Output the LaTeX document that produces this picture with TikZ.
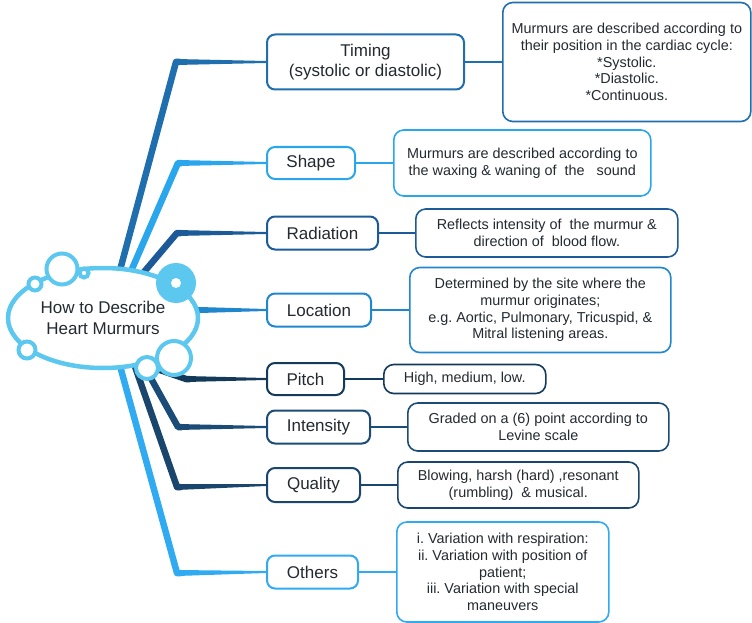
\documentclass[tikz,border=0pt]{standalone}
\usepackage{fontspec}
\setmainfont{Liberation Sans}
\usetikzlibrary{shapes.geometric}
\frenchspacing

\definecolor{ink}{HTML}{232A31}
\definecolor{cloudc}{HTML}{5CC8EF}
\definecolor{timingc}{HTML}{1F6EAD}
\definecolor{shapec}{HTML}{2AA6EC}
\definecolor{radiationc}{HTML}{1C5B97}
\definecolor{locationc}{HTML}{2187CD}
\definecolor{pitchc}{HTML}{133A5B}
\definecolor{intensityc}{HTML}{1B4C77}
\definecolor{qualityc}{HTML}{1A456D}
\definecolor{othersc}{HTML}{30AAF0}

\tikzset{
  hub/.style={ellipse,draw=cloudc,line width=4.5pt,fill=white,text=ink,
    minimum width=190pt,minimum height=100pt,inner sep=0pt,align=center,
    font=\fontsize{17}{21.5}\selectfont},
  bubble/.style={draw=cloudc,line width=4pt,fill=white},
  topic/.style={draw=#1,rounded corners=8pt,line width=2pt,fill=white,text=ink,
    anchor=west,align=center,inner sep=2pt,font=\fontsize{17}{20}\selectfont},
  detail/.style={draw=#1,rounded corners=10pt,line width=1.6pt,fill=white,text=ink,
    anchor=west,align=center,inner sep=2pt,font=\fontsize{14.4}{16.8}\selectfont},
  twig/.style={line width=6.5pt,line join=round},
  link/.style={line width=2pt},
}

\begin{document}
\begin{tikzpicture}[x=1pt,y=-1pt]
\useasboundingbox (0,0) rectangle (752,623);

% topic boxes
\node[topic=timingc,minimum width=197pt,minimum height=55pt] (timing) at (266,62) {Timing\\(systolic or diastolic)};
\node[topic=shapec,minimum width=88pt,minimum height=32pt] (shape) at (266,163) {Shape};
\node[topic=radiationc,minimum width=111pt,minimum height=33pt] (radiation) at (266,233) {Radiation};
\node[topic=locationc,minimum width=104pt,minimum height=33pt] (location) at (266,310) {Location};
\node[topic=pitchc,minimum width=77pt,minimum height=32pt] (pitch) at (266,379) {Pitch};
\node[topic=intensityc,minimum width=103pt,minimum height=33pt] (intensity) at (266,427) {Intensity};
\node[topic=qualityc,minimum width=93pt,minimum height=34pt] (quality) at (266,485) {Quality};
\node[topic=othersc,minimum width=91pt,minimum height=33pt] (others) at (266,572) {Others};

% detail boxes
\node[detail=timingc,minimum width=248pt,minimum height=119pt] (timingd) at (502,62) {Murmurs are described according to\\their position in the cardiac cycle:\\*Systolic.\\*Diastolic.\\*Continuous.};
\node[detail=shapec,minimum width=257pt,minimum height=66pt] (shaped) at (393,163) {Murmurs are described according to\\the waxing \& waning of\ \ the\ \ \ sound};
\node[detail=radiationc,minimum width=262pt,minimum height=48pt] (radiationd) at (415,233) {Reflects intensity of\ \ the murmur \&\\direction of\ \ blood flow.};
\node[detail=locationc,minimum width=261pt,minimum height=85pt] (locationd) at (409,310) {Determined by the site where the\\murmur originates;\\e.g. Aortic, Pulmonary, Tricuspid, \&\\Mitral listening areas.};
\node[detail=pitchc,minimum width=162pt,minimum height=29pt] (pitchd) at (383,379) {High, medium, low.};
\node[detail=intensityc,minimum width=261pt,minimum height=48pt] (intensityd) at (407,427) {Graded on a (6) point according to\\Levine scale};
\node[detail=qualityc,minimum width=241pt,minimum height=46pt] (qualityd) at (397,485) {Blowing, harsh (hard) ,resonant\\(rumbling)\ \ \& musical.};
\node[detail=othersc,minimum width=212pt,minimum height=100pt] (othersd) at (396,572) {i. Variation with respiration:\\ii. Variation with position of\\patient;\\iii. Variation with special\\maneuvers};

% topic to detail
\draw[link,timingc] (timing.east) -- (timingd.west);
\draw[link,shapec] (shape.east) -- (shaped.west);
\draw[link,radiationc] (radiation.east) -- (radiationd.west);
\draw[link,locationc] (location.east) -- (locationd.west);
\draw[link,pitchc] (pitch.east) -- (pitchd.west);
\draw[link,intensityc] (intensity.east) -- (intensityd.west);
\draw[link,qualityc] (quality.east) -- (qualityd.west);
\draw[link,othersc] (others.east) -- (othersd.west);

% branches, thick at the hub and thin at the box
\coordinate (t0) at (116,285); \coordinate (t1) at (176,62);
\coordinate (s0) at (125,285); \coordinate (s1) at (178,163);
\coordinate (r0) at (133,285); \coordinate (r1) at (177,233);
\coordinate (l0) at (185,310); \coordinate (l1) at (200,310);
\coordinate (p0) at (160,370); \coordinate (p1) at (186,379);
\coordinate (i0) at (138,355); \coordinate (i1) at (178,427);
\coordinate (q0) at (131,355); \coordinate (q1) at (177,487);
\coordinate (o0) at (117,355); \coordinate (o1) at (177,573);
\draw[twig,timingc] (t0) -- (t1) -- ++(4,0);
\fill[timingc] ([yshift=3pt]t1) -- ([yshift=1pt]timing.west) -- ([yshift=-1pt]timing.west) -- ([yshift=-3pt]t1) -- cycle;
\draw[twig,shapec] (s0) -- (s1) -- ++(4,0);
\fill[shapec] ([yshift=3pt]s1) -- ([yshift=1pt]shape.west) -- ([yshift=-1pt]shape.west) -- ([yshift=-3pt]s1) -- cycle;
\draw[twig,radiationc] (r0) -- (r1) -- ++(4,0);
\fill[radiationc] ([yshift=3pt]r1) -- ([yshift=1pt]radiation.west) -- ([yshift=-1pt]radiation.west) -- ([yshift=-3pt]r1) -- cycle;
\draw[twig,locationc] (l0) -- (l1);
\fill[locationc] ([yshift=3pt]l1) -- ([yshift=1pt]location.west) -- ([yshift=-1pt]location.west) -- ([yshift=-3pt]l1) -- cycle;
\draw[twig,pitchc] (p0) -- (p1) -- ++(4,0);
\fill[pitchc] ([yshift=3pt]p1) -- ([yshift=1pt]pitch.west) -- ([yshift=-1pt]pitch.west) -- ([yshift=-3pt]p1) -- cycle;
\draw[twig,intensityc] (i0) -- (i1) -- ++(4,0);
\fill[intensityc] ([yshift=3pt]i1) -- ([yshift=1pt]intensity.west) -- ([yshift=-1pt]intensity.west) -- ([yshift=-3pt]i1) -- cycle;
\draw[twig,qualityc] (q0) -- (q1) -- ++(4,0);
\fill[qualityc] ([yshift=3pt]q1) -- ([yshift=1pt]quality.west) -- ([yshift=-1pt]quality.west) -- ([yshift=-3pt]q1) -- cycle;
\draw[twig,othersc] (o0) -- (o1) -- ++(4,0);
\fill[othersc] ([yshift=3pt]o1) -- ([yshift=1pt]others.west) -- ([yshift=-1pt]others.west) -- ([yshift=-3pt]o1) -- cycle;

% the cloud
\node[hub] (hub) at (103,318) {How to Describe\\Heart Murmurs};
\draw[bubble] (62,269) circle (15.5);
\draw[bubble] (35,284) circle (6.5);
\draw[bubble] (84,273) circle (4.5);
\draw[bubble] (27,350) circle (8.5);
\draw[bubble] (174,358) circle (17);
\draw[bubble] (147,368) circle (11);
\fill[cloudc] (176,283) circle (20);
\fill[white] (176,283) circle (5);
\end{tikzpicture}
\end{document}
